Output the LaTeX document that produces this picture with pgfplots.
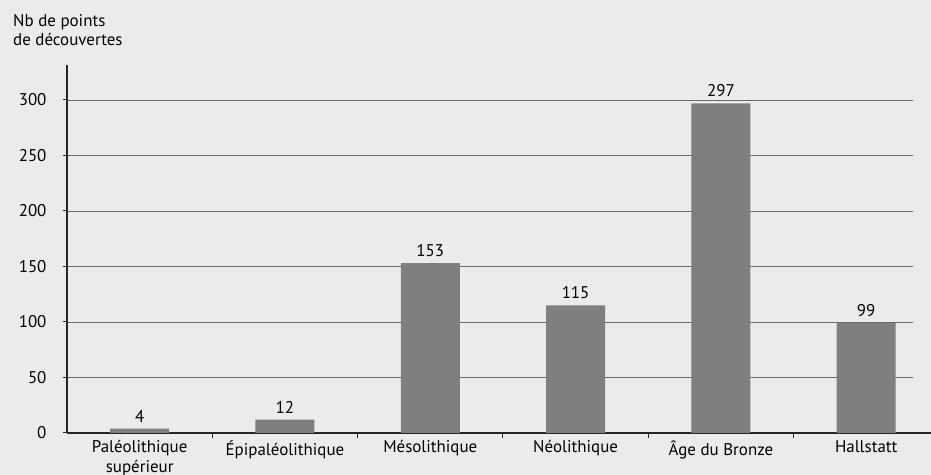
\documentclass[border=0pt]{standalone}
\usepackage{pgfplots}
\pgfplotsset{compat=1.18}
\usepackage{fontspec}
\setmainfont{PT Sans}
\definecolor{bgcol}{HTML}{EBEBE9}
\definecolor{barcol}{HTML}{7F7F7F}
\definecolor{axcol}{HTML}{262626}
\definecolor{gridcol}{HTML}{6A6A6A}
\begin{document}
\begin{tikzpicture}[x=1bp,y=1bp]
\useasboundingbox (0,0) rectangle (931,475);
\fill[bgcol] (0,0) rectangle (931,475);
\begin{axis}[
  at={(67bp,42bp)}, anchor=south west,
  scale only axis,
  width=846bp, height=368bp,
  xmin=-0.5, xmax=5.322,
  ymin=0, ymax=331.5,
  axis x line*=bottom, axis y line*=left,
  x axis line style={axcol, line width=1.6bp, shorten >=-18bp},
  y axis line style={axcol, line width=1.6bp},
  ytick={0,50,...,300},
  xtick={0,...,5},
  xticklabels={{Paléolithique\\supérieur},{Épipaléolithique},{Mésolithique},{Néolithique},{Âge du Bronze},{Hallstatt}},
  minor xtick={0.5,1.5,...,4.5},
  tick align=outside,
  major tick length=4bp,
  minor tick length=5bp,
  major x tick style={draw=none},
  minor x tick style={axcol, line width=1bp},
  ytick style={axcol, line width=1bp},
  ymajorgrids,
  grid style={gridcol, line width=0.8bp},
  tick label style={font=\fontsize{17}{19.5}\selectfont, text=black},
  xticklabel style={align=center, yshift=0bp},
  yticklabel style={xshift=-13bp},
  /pgf/number format/assume math mode=true,
  ybar, bar width=59bp,
  nodes near coords,
  nodes near coords style={font=\fontsize{17}{19.5}\selectfont, yshift=3bp},
]
\addplot[fill=barcol, draw=none] coordinates {(0,4) (1,12) (2,153) (3,115) (4,297) (5,99)};
\end{axis}
\node[anchor=base west, inner sep=0, font=\fontsize{17}{19.5}\selectfont] at (13,448) {Nb de points};
\node[anchor=base west, inner sep=0, font=\fontsize{17}{19.5}\selectfont] at (13,429) {de découvertes};
\end{tikzpicture}
\end{document}
